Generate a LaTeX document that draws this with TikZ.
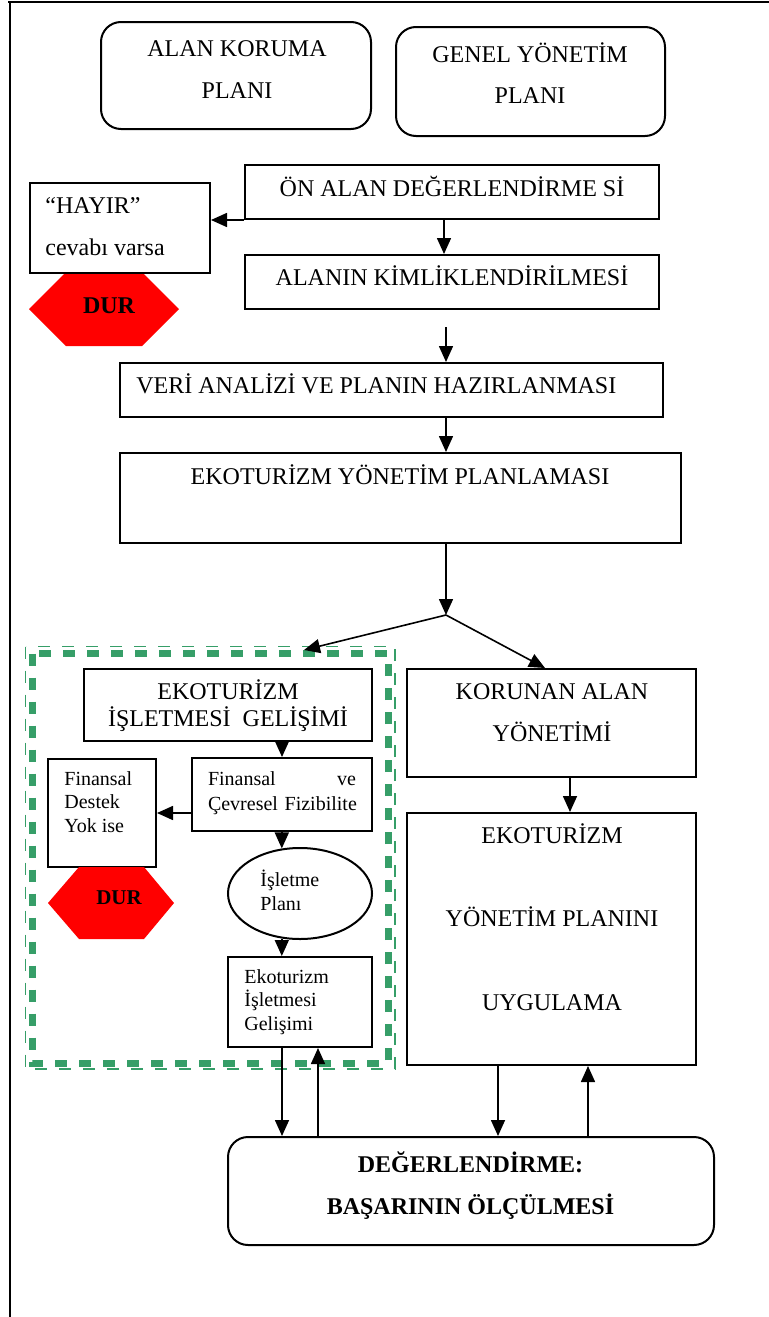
\documentclass[tikz,border=0pt]{standalone}
\usepackage{fontspec}
\setmainfont{Liberation Serif}
\usetikzlibrary{arrows.meta,shapes.geometric}
\definecolor{durred}{RGB}{255,0,0}
\definecolor{frgreen}{RGB}{54,158,104}
\tikzset{
  box/.style={draw, line width=1pt, fill=white, inner sep=0pt},
  rbox/.style={box, rounded corners=10pt},
  txt/.style={inner sep=0pt, anchor=base, font=\fontsize{12}{#1}\selectfont}, txt/.default=13.8,
  btxt/.style={txt, font=\fontsize{12}{#1}\selectfont\bfseries}, btxt/.default=13.8,
  small/.style={inner sep=0pt, anchor=base west, align=left, font=\fontsize{10}{#1}\selectfont}, small/.default=11.75,
  arr/.style={line width=0.8pt, -{Triangle[length=8pt,width=7pt]}},
}
\begin{document}
\begin{tikzpicture}[x=0.5pt, y=-0.5pt]
\useasboundingbox (0,0) rectangle (769,1317);
% frame
\draw[line width=1pt] (8,2) -- (769,2);
\draw[line width=1pt] (10,2) -- (10,1317);

% plans at the top (base = last line)
\node[rbox, minimum width=135pt, minimum height=53.5pt] (akp) at (236,75.5) {};
\node[txt=21, align=center] (akp-t) at (237,98) {ALAN KORUMA\\PLANI};
\node[rbox, minimum width=134.5pt, minimum height=54.5pt] (gyp) at (530.5,81.5) {};
\node[txt=20.5, align=center] (gyp-t) at (530,103) {GENEL YÖNETİM\\PLANI};

% main column
\node[box, minimum width=207pt, minimum height=27pt] (oad) at (452,192) {};
\node[txt] (oad-t) at (452,196) {ÖN ALAN DEĞERLENDİRME Sİ};
\fill[durred] (29,309) -- (66,272) -- (142,272) -- (179,309) -- (142,346) -- (66,346) -- cycle;
\node[btxt] (dur1) at (109,313) {DUR};
\node[box, minimum width=90pt, minimum height=45pt] (hayir) at (120,228) {};
\node[txt=21, align=left, anchor=base west] (hayir-t) at (45,255) {“HAYIR”\\cevabı varsa};
\node[box, minimum width=207pt, minimum height=27pt] (akim) at (452,282) {};
\node[txt] (akim-t) at (452,285.7) {ALANIN KİMLİKLENDİRİLMESİ};
\node[box, minimum width=271.5pt, minimum height=27pt] (veri) at (391.5,390) {};
\node[txt, anchor=base west] (veri-t) at (136,393) {VERİ ANALİZİ VE PLANIN HAZIRLANMASI};
\node[box, minimum width=280.5pt, minimum height=45pt] (eyp) at (400.5,498) {};
\node[txt] (eyp-t) at (400,484) {EKOTURİZM YÖNETİM PLANLAMASI};

\coordinate (c-a) at (444,0);
\coordinate (c-b) at (446,0);
\coordinate (free) at (446,327);
\coordinate (split) at (446,615);
\coordinate (g-in) at (304,650);
\coordinate (k-in) at (545,0);
\draw[arr] (oad.south west) -- (oad.south west -| hayir.east);
\draw[arr] (oad.south -| c-a) -- (akim.north -| c-a);
\draw[arr] (free) -- (veri.north -| free);
\draw[arr] (veri.south -| c-b) -- (eyp.north -| c-b);
\draw[arr] (eyp.south -| split) -- (split);

% enterprise development, green frame
\draw[frgreen, line width=3.5pt, dash pattern=on 6pt off 6pt] (32.5,653.5) rectangle (388,1063);
\draw[frgreen, line width=0.75pt, dash pattern=on 6pt off 6pt] (25.5,646.5) rectangle (395,1069);
\node[box, minimum width=144pt, minimum height=36pt] (eig) at (228,705) {};
\node[txt, align=center] (eig-t) at (228,726.7) {EKOTURİZM\\İŞLETMESİ~ GELİŞİMİ};
\node[box, minimum width=90pt, minimum height=36.5pt] (fcf) at (282,794.5) {};
\node[small=12.5, anchor=base, text width=74pt] (fcf-t) at (282,785) {Finansal\hfill ve\\\mbox{Çevresel Fizibilite}};
\node[box, minimum width=54pt, minimum height=54pt] (fdy) at (102,813) {};
\node[small] (fdy-t) at (64,832) {Finansal\\Destek\\Yok ise};
\fill[durred] (48,903) -- (79,867) -- (144,867) -- (174,903) -- (144,939) -- (79,939) -- cycle;
\node[inner sep=0pt, anchor=base, font=\fontsize{10.5}{12}\selectfont\bfseries] (dur2) at (119,904) {DUR};
\node[draw, ellipse, line width=1pt, minimum width=72pt, minimum height=45.5pt, inner sep=0pt] (ip) at (300,893.5) {};
\node[small=11.65] (ip-t) at (260,910) {İşletme\\Planı};
\node[box, minimum width=72pt, minimum height=45pt] (eig2) at (300,1002) {};
\node[small] (eig2-t) at (244,1030) {Ekoturizm\\İşletmesi\\Gelişimi};

% protected area column
\node[box, minimum width=144.5pt, minimum height=54pt] (kay) at (551.5,723) {};
\node[txt=21.35, align=center] (kay-t) at (552,741.7) {KORUNAN ALAN\\YÖNETİMİ};
\node[box, minimum width=144.5pt, minimum height=126pt] (uyg) at (551.5,939) {};
\node[txt=41.65, align=center] (uyg-t) at (552,1010) {EKOTURİZM\\YÖNETİM PLANINI\\UYGULAMA};

% evaluation
\node[rbox, minimum width=243pt, minimum height=54pt] (deg) at (471,1191) {};
\node[btxt=20.65, align=center] (deg-t) at (470.5,1214) {DEĞERLENDİRME:\\BAŞARININ ÖLÇÜLMESİ};

\coordinate (c-c) at (282,0);
\coordinate (c-d) at (318,0);
\coordinate (c-e) at (570,0);
\coordinate (c-f) at (498,0);
\coordinate (c-g) at (588,0);
\draw[arr] (split) -- (g-in);
\draw[arr] (split) -- (kay.north -| k-in);
\draw[arr] (eig.south -| c-c) -- (fcf.north -| c-c);
\draw[arr] (fcf.west |- fdy.east) -- (fdy.east);
\draw[arr] (fcf.south -| ip.112) -- (ip.112);
\draw[arr] (ip.248) -- (ip.248 |- eig2.north);
\draw[arr] (eig2.south -| c-c) -- (deg.north -| c-c);
\draw[arr] (deg.north -| c-d) -- (eig2.south -| c-d);
\draw[arr] (kay.south -| c-e) -- (uyg.north -| c-e);
\draw[arr] (uyg.south -| c-f) -- (deg.north -| c-f);
\draw[arr] (deg.north -| c-g) -- (uyg.south -| c-g);
\end{tikzpicture}
\end{document}
